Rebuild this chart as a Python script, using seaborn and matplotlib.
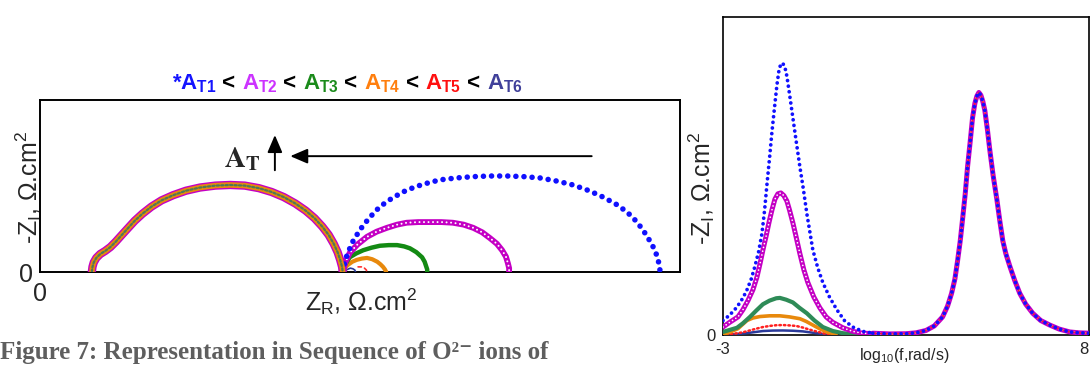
"""Diagramme de Nyquist et -Z_I en fonction de log10(f) pour les series A_T1..A_T6."""

import matplotlib

matplotlib.use("Agg")
import matplotlib.pyplot as plt
import seaborn as sns

OUTPUT_PATH = "out.png"
FIG_W, FIG_H = 1090, 365

# Nyquist : arc haute frequence commun a toutes les series
HF_ZR = [81, 82, 84, 88, 94, 102, 110, 118, 127, 137, 148, 160, 174, 190, 208, 228, 250,
         274, 297, 320, 342, 362, 381, 399, 415, 429, 441, 451, 459, 465, 469, 472, 473]
HF_ZI = [0, 8, 15, 22, 28, 33, 39, 47, 57, 68, 80, 91, 102, 112, 120, 127, 132,
         135, 136, 135, 131, 125, 117, 107, 96, 84, 71, 58, 44, 31, 19, 8, 0]

# Nyquist : arcs basse frequence
AT1_ZR = [473, 476, 481, 489, 500, 514, 531, 551, 573, 598, 625, 651, 677, 704, 730, 756,
          781, 808, 833, 858, 880, 900, 917, 931, 942, 952, 961, 966, 968, 969]
AT1_ZI = [0, 15, 30, 48, 66, 84, 102, 116, 128, 137, 144, 147, 149, 150, 150, 149,
          147, 142, 136, 127, 117, 106, 94, 80, 66, 50, 34, 18, 8, 0]
AT2_ZR = [473, 477, 484, 496, 511, 526, 542, 558, 573, 591, 609, 627, 645, 662, 677, 691,
          703, 714, 722, 728, 731, 733, 733]
AT2_ZI = [0, 15, 30, 43, 55, 63, 69, 74, 77, 78, 78, 78, 77, 74, 69, 62,
          53, 44, 34, 24, 14, 6, 0]
AT3_ZR = [473, 477, 484, 494, 505, 518, 531, 545, 558, 569, 578, 588, 597, 601, 603, 605, 605]
AT3_ZI = [0, 12, 23, 29, 34, 38, 41, 42, 42, 40, 37, 31, 23, 16, 10, 4, 0]
AT4_ZR = [473, 476, 481, 488, 495, 503, 511, 519, 527, 532, 536, 539, 541]
AT4_ZI = [0, 6, 11, 16, 19, 21, 22, 20, 16, 12, 8, 4, 0]
AT5_ZR = [497, 503, 507, 510, 511]
AT5_ZI = [8, 8, 6, 3, 0]
AT6_ZR = [476, 480, 485, 489, 492, 493]
AT6_ZI = [1, 4, 6, 5, 3, 0]

# -Z_I vs log10(f) : pic haute frequence commun
HF_LOGF = [1.5, 2.0, 2.5, 2.8, 3.1, 3.35, 3.6, 3.75, 3.87, 3.97, 4.05, 4.13, 4.2, 4.28,
           4.35, 4.43, 4.5, 4.57, 4.63, 4.69, 4.75, 4.81, 4.87, 4.95, 5.02, 5.12, 5.23,
           5.32, 5.41, 5.5, 5.62, 5.77, 5.92, 6.1, 6.31, 6.55, 6.82, 7.1, 7.42, 7.7, 8.0]
HF_BODE = [1, 0.6, 0.7, 1.2, 2.5, 5, 10, 16, 23, 31, 41, 52, 64, 78,
           93, 107, 120, 128, 132, 134, 132.5, 129, 124, 113, 102, 88, 75,
           63, 52, 45, 38, 30, 23, 17, 12, 8, 5.5, 3.3, 1.7, 1.2, 1]

# -Z_I vs log10(f) : pics basse frequence
AT1_LOGF = [-3.0, -2.8, -2.6, -2.45, -2.3, -2.15, -2.04, -1.93, -1.83, -1.75, -1.68, -1.6,
            -1.53, -1.45, -1.38, -1.32, -1.26, -1.2, -1.14, -1.08, -1.0, -0.9, -0.8,
            -0.69, -0.58, -0.48, -0.39, -0.3, -0.15, 0.0, 0.2, 0.42, 0.65, 0.9, 1.2, 1.5]
AT1_BODE = [8, 11, 15, 19, 24, 31, 38, 46, 56, 69, 83, 98,
            112, 126, 138, 146, 150, 150, 148, 143, 133, 120, 107,
            93, 80, 67, 57, 47, 37, 29, 21, 14, 8, 4.4, 2, 1]
AT2_LOGF = [-3.0, -2.8, -2.55, -2.4, -2.25, -2.1, -1.98, -1.88, -1.8, -1.7, -1.62, -1.53,
            -1.44, -1.35, -1.26, -1.17, -1.08, -1.0, -0.9, -0.8, -0.69, -0.57, -0.45,
            -0.27, -0.09, 0.1, 0.3, 0.6, 0.9, 1.2, 1.5]
AT2_BODE = [4.4, 7, 10, 14, 19, 25, 32, 40, 47, 55, 62, 69,
            75, 78, 78.5, 77, 74, 69, 62, 54, 45, 36, 29,
            21, 15, 10, 7, 4, 2, 1, 0.8]
AT3_LOGF = [-3.0, -2.8, -2.58, -2.4, -2.19, -2.0, -1.8, -1.6, -1.4, -1.29, -1.1, -0.9,
            -0.7, -0.48, -0.25, 0.0, 0.3, 0.6, 1.0]
AT3_BODE = [1.7, 2.8, 4, 6.5, 10, 13.5, 17, 19, 20.3, 20.5, 19.5, 18,
            15, 12, 8, 4.4, 2.2, 1, 0.3]
AT4_LOGF = [-3.0, -2.8, -2.55, -2.4, -2.28, -2.1, -1.89, -1.6, -1.29, -1.0, -0.69, -0.5,
            -0.3, -0.1, 0.12, 0.4]
AT4_BODE = [0.5, 1.5, 3.5, 6, 8, 9.4, 10.2, 10.6, 10.6, 10, 9, 7.5,
            5.5, 3.5, 1.7, 0.3]
AT5_LOGF = [-2.9, -2.6, -2.4, -2.2, -2.0, -1.8, -1.6, -1.4, -1.2, -1.0, -0.8, -0.6,
            -0.4, -0.2, 0.0, 0.3]
AT5_BODE = [0.3, 0.9, 1.5, 2.5, 3.5, 4.4, 5, 5.4, 5.5, 5.3, 5, 4.1,
            3, 2, 1, 0]
AT6_LOGF = [-2.9, -2.6, -2.3, -2.05, -1.8, -1.5, -1.2, -0.9, -0.6, -0.4, -0.2, 0.2]
AT6_BODE = [0, 0.5, 1, 1.6, 2.2, 2.45, 2.5, 2.35, 2, 1.5, 1, 0]

TITLE_PIECES = [
    (r"$\mathbf{*A_{T1}}$", "#1414ff"),
    (" < ", "black"),
    (r"$\mathbf{A_{T2}}$", "#cc33ff"),
    (" < ", "black"),
    (r"$\mathbf{A_{T3}}$", "#1a8a1a"),
    (" < ", "black"),
    (r"$\mathbf{A_{T4}}$", "#ff7f0e"),
    (" < ", "black"),
    (r"$\mathbf{A_{T5}}$", "#ff1010"),
    (" < ", "black"),
    (r"$\mathbf{A_{T6}}$", "#40409a"),
]

CAPTION = "Figure 7: Representation in Sequence of O²⁻ ions of"

BLUE = "#1010ff"
MAGENTA = "#c400c4"


def line(ax, x, y, color, lw, ls="-", z=2):
    sns.lineplot(x=x, y=y, ax=ax, color=color, linewidth=lw, linestyle=ls,
                 sort=False, estimator=None, zorder=z,
                 dash_capstyle="round", solid_capstyle="round", solid_joinstyle="round")


def rings(ax, x, y, color, lw, z):
    """Imite une suite de cercles ouverts."""
    line(ax, x, y, color, lw, z=z)
    line(ax, x, y, "white", lw * 0.35, ls=(0, (0.01, 2.2)), z=z + 0.1)


def px_axes(fig, left, top, right, bottom):
    return fig.add_axes([left / FIG_W, 1 - bottom / FIG_H,
                         (right - left) / FIG_W, (bottom - top) / FIG_H])


def draw_nyquist(fig):
    ax = px_axes(fig, 40, 100, 680, 272)

    # arcs basse frequence
    line(ax, AT6_ZR, AT6_ZI, "#2b3a9a", 1.2, z=3)
    line(ax, AT5_ZR, AT5_ZI, "#ff3030", 1.2, ls=(0, (2, 2)), z=3)
    line(ax, AT4_ZR, AT4_ZI, "#e8890c", 3.0, z=3)
    line(ax, AT3_ZR, AT3_ZI, "#138a13", 3.2, z=3)
    rings(ax, AT2_ZR, AT2_ZI, MAGENTA, 4.2, z=4)
    line(ax, AT1_ZR, AT1_ZI, BLUE, 4.0, ls=(0, (0.01, 1.45)), z=5)

    # arc haute frequence (series superposees)
    rings(ax, HF_ZR, HF_ZI, MAGENTA, 6.0, z=4)
    line(ax, HF_ZR, HF_ZI, "#e8890c", 4.0, z=5)
    line(ax, HF_ZR, HF_ZI, "#4d7a55", 1.6, ls=(0, (1, 1)), z=6)

    ax.set_xlim(0, 1000)
    ax.set_ylim(0, 268.75)
    ax.set_xticks([0])
    ax.set_yticks([0])
    ax.tick_params(axis="both", length=0, labelsize=18)
    ax.tick_params(axis="x", pad=7)
    ax.tick_params(axis="y", pad=5)
    for spine in ax.spines.values():
        spine.set_color("black")
        spine.set_linewidth(1.4)

    ax.set_xlabel(r"Z$_\mathrm{R}$, Ω.cm$^2$", fontsize=18)
    ax.xaxis.set_label_coords(0.502, -0.085)
    ax.set_ylabel(r"-Z$_\mathrm{I}$, Ω.cm$^2$", fontsize=18)
    ax.yaxis.set_label_coords(0.006, 0.49)

    arrow = dict(arrowstyle="-|>,head_length=0.7,head_width=0.3", color="black",
                 lw=1.4, mutation_scale=15, shrinkA=0, shrinkB=0)
    ax.annotate("", xy=(391, 181), xytext=(862, 181), arrowprops=arrow)
    ax.annotate("", xy=(367, 214), xytext=(367, 159), arrowprops=arrow)
    ax.text(316, 176, r"$\mathbf{A}_{\mathbf{T}}$", math_fontfamily="stix",
            fontsize=21, ha="center", va="center")
    return ax


def draw_bode(fig):
    ax = px_axes(fig, 723, 17, 1089, 335)

    line(ax, AT6_LOGF, AT6_BODE, "#2b3a9a", 1.8, z=3)
    line(ax, AT5_LOGF, AT5_BODE, "#ff2020", 1.8, ls=(0, (0.6, 1.2)), z=3)
    line(ax, AT4_LOGF, AT4_BODE, "#e8890c", 2.6, z=3)
    line(ax, AT3_LOGF, AT3_BODE, "#2e8b57", 3.0, z=3)
    rings(ax, AT2_LOGF, AT2_BODE, MAGENTA, 3.6, z=4)
    rings(ax, HF_LOGF, HF_BODE, MAGENTA, 3.6, z=4)
    line(ax, HF_LOGF, HF_BODE, "#ff2020", 1.0, z=5)
    line(ax, AT1_LOGF, AT1_BODE, BLUE, 2.7, ls=(0, (0.01, 1.5)), z=6)
    line(ax, HF_LOGF, HF_BODE, BLUE, 2.7, ls=(0, (0.01, 1.5)), z=6)

    ax.set_xlim(-3, 8)
    ax.set_ylim(0, 175.7)
    ax.set_xticks([-3, 8])
    ax.set_xticklabels(["-3", "8"])
    ax.get_xticklabels()[1].set_horizontalalignment("right")
    ax.set_yticks([0])
    ax.tick_params(axis="both", length=0, labelsize=12, pad=5)
    for spine in ax.spines.values():
        spine.set_color("black")
        spine.set_linewidth(1.2)

    ax.set_xlabel(r"log$_{10}$(f,rad/s)", fontsize=11.5)
    ax.xaxis.set_label_coords(0.495, -0.035)
    ax.set_ylabel(r"-Z$_\mathrm{I}$, Ω.cm$^2$", fontsize=18)
    ax.yaxis.set_label_coords(-0.016, 0.46)
    return ax


def draw_title(fig, center_px, baseline_px, size):
    renderer = fig.canvas.get_renderer()
    placed = []
    width = 0.0
    for label, color in TITLE_PIECES:
        text = fig.text(0, 1 - baseline_px / FIG_H, label, color=color,
                        fontsize=size, fontweight="bold", ha="left", va="baseline")
        placed.append((text, width))
        width += text.get_window_extent(renderer).width
    start = center_px - width / 2
    for text, offset in placed:
        text.set_x((start + offset) / FIG_W)


def main():
    sns.set_theme(style="white")
    plt.rcParams["font.family"] = ["Liberation Sans", "DejaVu Sans"]
    plt.rcParams["mathtext.fontset"] = "custom"
    plt.rcParams["mathtext.rm"] = "Liberation Sans"
    plt.rcParams["mathtext.it"] = "Liberation Sans:italic"
    plt.rcParams["mathtext.bf"] = "Liberation Sans:bold"

    fig = plt.figure(figsize=(FIG_W / 100, FIG_H / 100), dpi=100)
    draw_nyquist(fig)
    draw_bode(fig)
    draw_title(fig, 347, 89, 16)

    # legende de figure, coupee en bas dans l'original
    fig.text(0.0, 1 - 359 / FIG_H, CAPTION,
             family=["Liberation Serif", "DejaVu Serif"], fontweight="bold",
             fontsize=18, color="#5e5e5e", ha="left", va="baseline")

    fig.savefig(OUTPUT_PATH, dpi=100)
    plt.close(fig)


if __name__ == "__main__":
    main()
